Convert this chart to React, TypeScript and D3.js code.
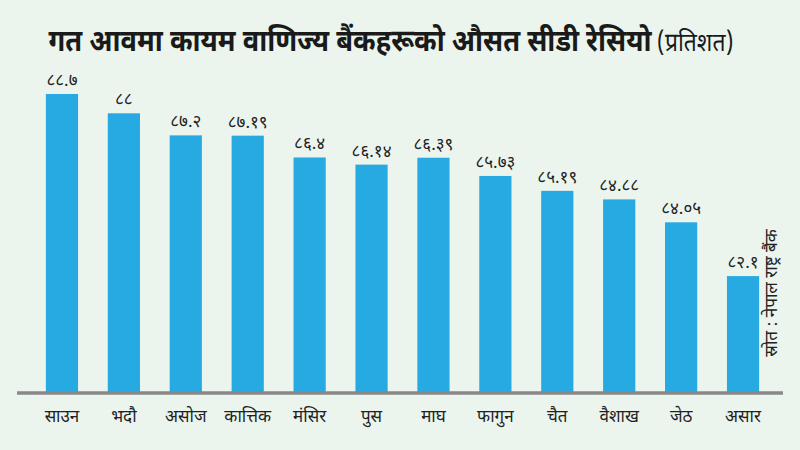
import React from "react";
import * as d3 from "d3";

const months = ["साउन", "भदौ", "असोज", "कात्तिक", "मंसिर", "पुस", "माघ", "फागुन", "चैत", "वैशाख", "जेठ", "असार"];
const values = [88.7, 88, 87.2, 87.19, 86.4, 86.14, 86.39, 85.73, 85.19, 84.88, 84.05, 82.1];
const valueLabels = ["८८.७", "८८", "८७.२", "८७.१९", "८६.४", "८६.१४", "८६.३९", "८५.७३", "८५.१९", "८४.८८", "८४.०५", "८२.१"];
const title = "गत आवमा कायम वाणिज्य बैंकहरूको औसत सीडी रेसियो";
const titleUnit = "(प्रतिशत)";
const source = "स्रोत : नेपाल राष्ट्र बैंक";

const W = 800, H = 450;
const font = "'Noto Sans Devanagari', 'Noto Sans', sans-serif";

export default function App() {
  const x = d3.scaleBand<string>().domain(months).range([31, 774]).paddingInner(0.48).paddingOuter(0.24);
  const y = d3.scaleLinear().domain([77.9, 88.7]).range([392, 94]);
  const bw = x.bandwidth();
  return (
    <svg width={W} height={H} style={{ position: "absolute", left: 0, top: 0, background: "#ebf5ee" }}>
      <rect x={0} y={0} width={W} height={H} fill="#ebf5ee" />
      <g transform="translate(391,0) scale(0.88,1)">
        <text x={0} y={51} textAnchor="middle" fontFamily={font} fill="#1a1a1a">
          <tspan fontSize={31} fontWeight="bold">{title}</tspan>
          <tspan fontSize={26} dx={6}>{titleUnit}</tspan>
        </text>
      </g>
      {months.map((m, i) => (
        <g key={m}>
          <rect x={x(m)} y={y(values[i])} width={bw} height={392 - y(values[i])} fill="#27a9e1" />
          <text x={(x(m) as number) + bw / 2} y={y(values[i]) - 8} textAnchor="middle" fontFamily={font} fontSize={17} fill="#222">{valueLabels[i]}</text>
          <text x={(x(m) as number) + bw / 2} y={422} textAnchor="middle" fontFamily={font} fontSize={17} fill="#222">{m}</text>
        </g>
      ))}
      <line x1={17} x2={783} y1={393} y2={393} stroke="#888" strokeWidth={3.5} />
      <text transform="translate(777,293) rotate(-90)" textAnchor="middle" fontFamily={font} fontSize={17} fill="#222">{source}</text>
    </svg>
  );
}
